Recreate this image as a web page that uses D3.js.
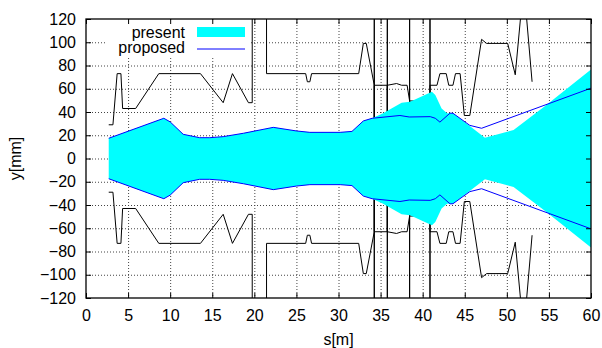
<!DOCTYPE html>
<html>
<head>
<meta charset="utf-8">
<script src="https://cdn.jsdelivr.net/npm/d3@7"></script>
<style>
  body { margin: 0; background: #fff; }
  text { font-family: "Liberation Sans", Arial, sans-serif; font-size: 16px; }
</style>
</head>
<body>
<svg id="chart" width="602" height="348"></svg>
<script>
// aperture half-width (black), +-999 = opening goes off scale
const apertureS = [2.7, 3.2, 3.7, 4.15, 4.35, 5.9, 8.65, 13.6, 16.3, 17.4, 19.3, 19.75, 19.75, 21.45, 21.45,
  26.1, 26.3, 26.6, 26.8, 32.4, 32.95, 33.3, 34.25, 34.25, 34.25, 35.8, 35.8, 35.8, 36.9, 37.5, 38.15,
  38.45, 38.45, 38.45, 40.87, 40.87, 40.87, 41.7, 42.05, 42.8, 43.1, 43.6, 43.9, 44.45, 44.95, 45.6,
  47.0, 47.6, 50.1, 51.0, 52.0, 53.0];
const apertureHalf = [29, 29, 73, 73, 43, 43, 73, 73, 48, 73, 48, 48, 999, 999, 73,
  73, 66, 66, 73, 73, 99, 99, 63, -999, 63, 63, -999, 63, 64.5, 63, 63,
  49.5, -999, 49.5, 49.5, -999, 63, 63, 73, 73, 63, 63, 73, 73, 37, 37,
  102.5, 99, 99, 72, 150, 66];

// present beam envelope (cyan)
const presentS = [2.7, 9.25, 10.0, 11.55, 13.5, 14.7, 16.3, 18.7, 22.25, 25.0, 26.6, 30.2, 31.6, 32.95, 34.0,
  35.3, 37.5, 38.5, 41.1, 41.5, 42.25, 42.9, 43.6, 44.4, 47.4, 50.8, 54.7, 60];
const presentHalf = [17.4, 34.6, 31.5, 20.8, 17.9, 17.9, 18.8, 21.7, 26.8, 23.7, 22.5, 22.5, 23.3, 32.3, 34.6,
  38.9, 48, 48.9, 57.5, 54.6, 43, 38.9, 38.9, 34.6, 17.9, 24.5, 46, 76.5];

// proposed beam envelope (blue)
const proposedS = [2.7, 9.25, 10.0, 11.55, 13.5, 14.7, 16.3, 18.7, 22.25, 25.0, 26.6, 30.2, 31.6, 32.95, 34.0,
  37.3, 38.4, 40.9, 41.5, 42.05, 43.25, 43.6, 45.6, 47.0, 60];
const proposedHalf = [17.4, 34.6, 31.5, 20.8, 17.9, 17.9, 18.8, 21.7, 26.8, 23.7, 22.5, 22.5, 23.3, 32.3, 34.6,
  37, 35.7, 36, 34.6, 31.3, 39, 38.9, 28.5, 26, 60.5];

const xTicks = [0, 5, 10, 15, 20, 25, 30, 35, 40, 45, 50, 55, 60];
const yTicks = [-120, -100, -80, -60, -40, -20, 0, 20, 40, 60, 80, 100, 120];

const width = 602, height = 348;
const margin = { left: 86, right: 11, top: 19, bottom: 50 };
const x = d3.scaleLinear().domain([0, 60]).range([margin.left, width - margin.right]);
const y = d3.scaleLinear().domain([-120, 120]).range([height - margin.bottom, margin.top]);

const svg = d3.select("#chart");

svg.append("clipPath").attr("id", "plotClip")
  .append("rect")
  .attr("x", x(0)).attr("y", y(120))
  .attr("width", x(60) - x(0)).attr("height", y(-120) - y(120));

// grid
const grid = svg.append("g").attr("stroke", "#444").attr("stroke-width", 1).attr("stroke-dasharray", "1,2");
grid.selectAll(".gx").data(xTicks.slice(1, -1)).enter().append("line")
  .attr("x1", d => x(d) + 0.5).attr("x2", d => x(d) + 0.5)
  .attr("y1", y(120)).attr("y2", y(-120));
grid.selectAll(".gy").data(yTicks.slice(1, -1)).enter().append("line")
  .attr("x1", x(0)).attr("x2", x(60))
  .attr("y1", d => y(d) + 0.5).attr("y2", d => y(d) + 0.5);

const plot = svg.append("g").attr("clip-path", "url(#plotClip)");

// aperture
const aperture = apertureS.map((s, i) => [s, apertureHalf[i]]);
const line = d3.line().x(d => x(d[0])).y(d => y(d[1]));
plot.append("path").datum(aperture).attr("d", line)
  .attr("fill", "none").attr("stroke", "#000").attr("stroke-width", 1);
plot.append("path").datum(aperture.map(d => [d[0], -d[1]])).attr("d", line)
  .attr("fill", "none").attr("stroke", "#000").attr("stroke-width", 1);

// present
const present = presentS.map((s, i) => [s, presentHalf[i]]);
plot.append("path").datum(present)
  .attr("d", d3.area().x(d => x(d[0])).y0(d => y(-d[1])).y1(d => y(d[1])))
  .attr("fill", "#00ffff");

// proposed
const proposed = proposedS.map((s, i) => [s, proposedHalf[i]]);
plot.append("path").datum(proposed).attr("d", line)
  .attr("fill", "none").attr("stroke", "#0000ff").attr("stroke-width", 1);
plot.append("path").datum(proposed.map(d => [d[0], -d[1]])).attr("d", line)
  .attr("fill", "none").attr("stroke", "#0000ff").attr("stroke-width", 1);

// legend
svg.append("rect").attr("x", 106).attr("y", y(120) + 1).attr("width", 145).attr("height", 38).attr("fill", "#fff");
const legend = svg.append("g");
legend.append("text").attr("x", 185).attr("y", 37.5).attr("text-anchor", "end").text("present");
legend.append("text").attr("x", 185).attr("y", 53).attr("text-anchor", "end").text("proposed");
legend.append("rect").attr("x", 197).attr("y", 27).attr("width", 48).attr("height", 10).attr("fill", "#00ffff");
legend.append("line").attr("x1", 197).attr("x2", 245).attr("y1", 49).attr("y2", 49)
  .attr("stroke", "#0000ff").attr("stroke-width", 1);

// axes
const ax = svg.append("g");
ax.append("g").attr("transform", `translate(0,${y(-120)})`)
  .call(d3.axisBottom(x).tickValues(xTicks).tickSize(-5).tickPadding(12));
ax.append("g").attr("transform", `translate(0,${y(120)})`)
  .call(d3.axisTop(x).tickValues(xTicks).tickSize(-5).tickFormat(""));
ax.append("g").attr("transform", `translate(${x(0)},0)`)
  .call(d3.axisLeft(y).tickValues(yTicks).tickSize(-5).tickPadding(10));
ax.append("g").attr("transform", `translate(${x(60)},0)`)
  .call(d3.axisRight(y).tickValues(yTicks).tickSize(-5).tickFormat(""));
ax.selectAll(".domain").remove();
ax.selectAll(".tick line").attr("stroke", "#000");
ax.selectAll(".tick text").attr("fill", "#000")
  .style("font-size", "16px").style("font-family", "\"Liberation Sans\", Arial, sans-serif");

svg.append("rect")
  .attr("x", x(0)).attr("y", y(120))
  .attr("width", x(60) - x(0)).attr("height", y(-120) - y(120))
  .attr("fill", "none").attr("stroke", "#000").attr("stroke-width", 1.3);

svg.append("text").attr("x", (x(0) + x(60)) / 2).attr("y", 345).attr("text-anchor", "middle").text("s[m]");
svg.append("text").attr("transform", `translate(21,${y(0)}) rotate(-90)`)
  .attr("text-anchor", "middle").text("y[mm]");
</script>
</body>
</html>
